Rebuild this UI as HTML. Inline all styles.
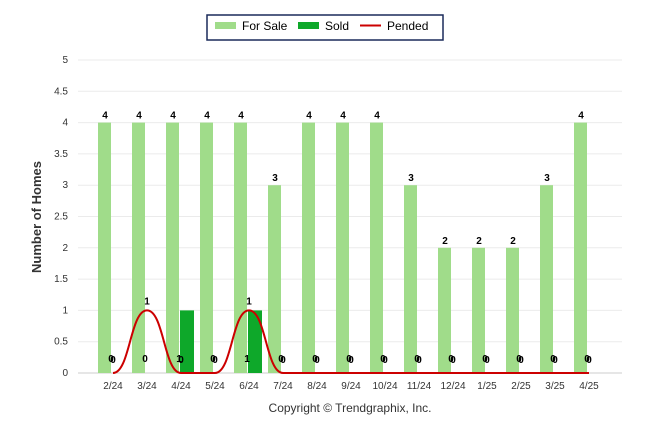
<!DOCTYPE html>
<html><head><meta charset="utf-8"><style>
body{margin:0;background:#fff;font-family:"Liberation Sans",Arial,sans-serif}
svg text{font-family:"Liberation Sans",Arial,sans-serif}
</style></head><body>
<svg id="chart" width="646" height="434">
<g>
<rect x="207" y="15" width="236" height="25" fill="#fff" stroke="#1a2a5a" stroke-width="1.5"/>
<rect x="215" y="22" width="21" height="7" fill="#a0dc8a"/>
<text x="242" y="30" font-size="12">For Sale</text>
<rect x="298" y="22" width="21" height="7" fill="#0ea82a"/>
<text x="325" y="30" font-size="12">Sold</text>
<line x1="360" y1="25.5" x2="381" y2="25.5" stroke="#c00" stroke-width="2"/>
<text x="387" y="30" font-size="12">Pended</text>
</g>
<text transform="translate(41,217) rotate(-90)" text-anchor="middle" font-size="13" font-weight="bold" fill="#333">Number of Homes</text>
<text x="350" y="412" text-anchor="middle" font-size="12" fill="#333">Copyright © Trendgraphix, Inc.</text>
<g id="grid"></g><g id="bars"></g><g id="line"></g><g id="labels"></g>
</svg>
<script>
const categories=["2/24","3/24","4/24","5/24","6/24","7/24","8/24","9/24","10/24","11/24","12/24","1/25","2/25","3/25","4/25"];
const forSale=[4,4,4,4,4,3,4,4,4,3,2,2,2,3,4];
const sold=[0,0,1,0,1,0,0,0,0,0,0,0,0,0,0];
const pended=[0,1,0,0,1,0,0,0,0,0,0,0,0,0,0];
const yTicks=["0","0.5","1","1.5","2","2.5","3","3.5","4","4.5","5"];
const NS="http://www.w3.org/2000/svg";
const X=i=>113+i*34;
const Y=v=>373-v*62.6;
function mk(tag,attrs,parent){const e=document.createElementNS(NS,tag);for(const k in attrs)e.setAttribute(k,attrs[k]);document.getElementById(parent).appendChild(e);return e;}
yTicks.forEach(t=>{
  const v=parseFloat(t);
  const l=mk('line',{x1:78,x2:622,y1:Y(v),y2:Y(v),stroke:v===0?'#ccc':'#ebebeb'},'grid');
  
  
  const tx=mk('text',{x:68,y:Y(v)+3,'text-anchor':'end','font-size':10,fill:'#333'},'grid');
  tx.textContent=t;
  
  
});
categories.forEach((c,i)=>{
  const tx=mk('text',{x:X(i),y:389,'text-anchor':'middle','font-size':10,fill:'#333'},'grid');
  tx.textContent=c;
  
  
  const b=mk('rect',{x:X(i)-15,y:Y(forSale[i]),width:13,height:Y(0)-Y(forSale[i]),fill:'#a0dc8a'},'bars');
  
  
  const s=mk('rect',{x:X(i)-1,y:Y(sold[i]),width:14,height:Y(0)-Y(sold[i]),fill:'#0ea82a'},'bars');
  
  
  const l1=mk('text',{x:X(i)-8,y:Y(forSale[i])-4,'text-anchor':'middle','font-size':10,'font-weight':'bold'},'labels');
  l1.textContent=forSale[i];
  
  
  const l2=mk('text',{x:X(i)-2,y:sold[i]?362:362,'text-anchor':'middle','font-size':10,'font-weight':'bold'},'labels');
  l2.textContent=sold[i];
  
  
  const l3=mk('text',{x:X(i),y:Y(pended[i])-(pended[i]?6:10),'text-anchor':'middle','font-size':10,'font-weight':'bold'},'labels');
  l3.textContent=pended[i];
  
  
});
let d='M'+X(0)+','+Y(pended[0]);
for(let i=1;i<pended.length;i++){const mx=(X(i-1)+X(i))/2;d+=' C'+mx+','+Y(pended[i-1])+' '+mx+','+Y(pended[i])+' '+X(i)+','+Y(pended[i]);}
const p=mk('path',{d:d,fill:'none',stroke:'#c00','stroke-width':2},'line');


</script>
</body></html>
